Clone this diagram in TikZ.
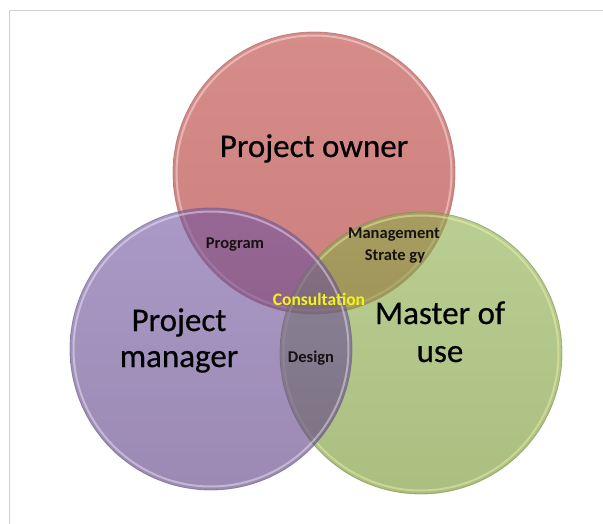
\documentclass[tikz,border=0pt]{standalone}
\usepackage{fontspec}
\setmainfont{Carlito}
% circle colours
\definecolor{ownerTop}{RGB}{214,140,137}
\definecolor{ownerBot}{RGB}{204,128,126}
\definecolor{ownerEdge}{RGB}{175,108,106}
\definecolor{masterTop}{RGB}{140,174,74}
\definecolor{masterBot}{RGB}{114,148,44}
\definecolor{masterEdge}{RGB}{120,140,80}
\definecolor{managerTop}{RGB}{114,86,162}
\definecolor{managerBot}{RGB}{90,60,130}
\definecolor{managerEdge}{RGB}{110,95,135}
\definecolor{frameGray}{RGB}{208,208,208}
\definecolor{labelInk}{RGB}{22,18,20}
\definecolor{consultYellow}{RGB}{245,245,20}
\begin{document}
\begin{tikzpicture}[x=1pt,y=-1pt,
  frameline/.style={draw=frameGray,line width=1.8pt},
  rim/.style={draw=white,draw opacity=0.4,line width=2pt},
  bigtext/.style={font=\fontsize{33}{36}\selectfont\addfontfeatures{FakeBold=0.5},text=black,inner sep=0pt,anchor=base},
  smalltext/.style={font=\bfseries\fontsize{16.5}{18}\selectfont,text=labelInk,inner sep=0pt,anchor=base},
  yellowtext/.style={font=\bfseries\fontsize{17.5}{19}\selectfont,text=consultYellow,inner sep=0pt,anchor=base}]
\useasboundingbox (0,0) rectangle (603,524);
\fill[white] (0,0) rectangle (603,524);

% thin frame along the top and left
\draw[frameline] (9.5,524) -- (9.5,10.5) -- (603,10.5);

% circle centres
\coordinate (cOwner) at (314,173);
\coordinate (cMaster) at (421,353);
\coordinate (cManager) at (211,349);

% Project owner (opaque, drawn first)
\shade[top color=ownerTop,bottom color=ownerBot] (cOwner) circle (141);
\draw[rim] (cOwner) circle (137.5);
\draw[ownerEdge,line width=0.8pt,draw opacity=0.7] (cOwner) circle (141);

% Master of use (translucent)
\shade[top color=masterTop,bottom color=masterBot,fill opacity=0.6] (cMaster) circle (141);
\draw[rim,draw=white!70!yellow] (cMaster) circle (137.5);
\draw[masterEdge,line width=0.8pt,draw opacity=0.6] (cMaster) circle (141);

% Project manager (translucent, on top)
\shade[top color=managerTop,bottom color=managerBot,fill opacity=0.6] (cManager) circle (141);
\draw[rim] (cManager) circle (137.5);
\draw[managerEdge,line width=0.8pt,draw opacity=0.6] (cManager) circle (141);

% main labels
\node[bigtext] (owner) at (314,157) {Project owner};
\node[bigtext] (manager1) at (179,331) {Project};
\node[bigtext] (manager2) at (179,367) {manager};
\node[bigtext] (master1) at (440,324) {Master of};
\node[bigtext] (master2) at (440,362) {use};

% overlap labels
\node[smalltext] (program) at (235,248) {Program};
\node[smalltext] (management) at (394,238) {Management};
\node[smalltext] (strategy) at (395,260) {Strate gy};
\node[smalltext] (design) at (311,362) {Design};
\node[yellowtext] (consult) at (319,305) {Consultation};
\end{tikzpicture}
\end{document}
